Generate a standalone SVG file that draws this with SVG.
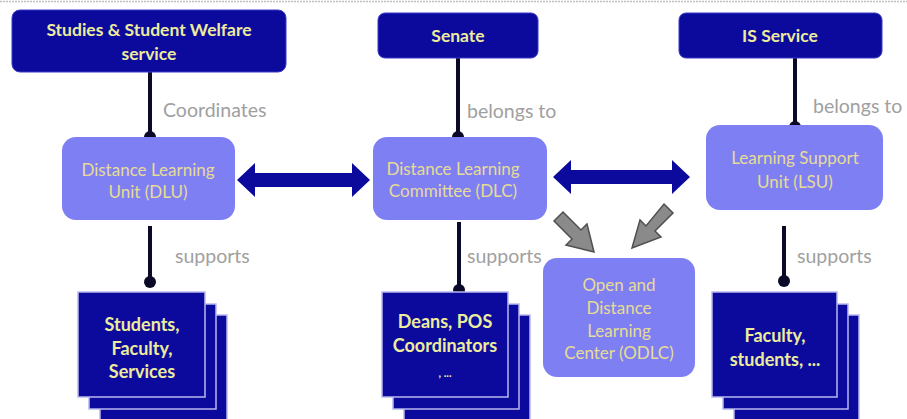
<svg xmlns="http://www.w3.org/2000/svg" width="907" height="419" viewBox="0 0 907 419">
<style>
.top{fill:#0c0a9c;stroke:#3a38c8;stroke-width:1}
.mid{fill:#7f7ff4}
.stk{fill:#0c0a9c;stroke:#b8b8f0;stroke-width:1.5}
.tt{font-family:Lato,"Liberation Sans",sans-serif;font-weight:bold;font-size:17.5px;fill:#ecec9e;text-anchor:middle}
.st{font-size:18px}
.mt{font-family:Lato,"Liberation Sans",sans-serif;font-size:17px;fill:#e6dc94;text-anchor:middle}
.lbl{font-family:Lato,"Liberation Sans",sans-serif;font-size:19.5px;fill:#a0a0a0}
.ln{stroke:#0a0a28;stroke-width:4}
.dot{fill:#0a0a28}
.dbl{fill:#0c0a9c}
.gr{fill:#8a8a8a;stroke:#505050;stroke-width:1.5}
</style>
<rect width="907" height="419" fill="#fff"/>
<line x1="0" y1="1.5" x2="907" y2="1.5" stroke="#c0c0c0" stroke-width="1.5" stroke-dasharray="2 1"/>
<g id="connectors">
<line class="ln" x1="150" y1="72" x2="150" y2="137"/><circle class="dot" cx="150" cy="137" r="6"/>
<line class="ln" x1="458" y1="58" x2="458" y2="137"/><circle class="dot" cx="458" cy="137" r="6"/>
<line class="ln" x1="795" y1="58" x2="795" y2="127"/><circle class="dot" cx="795" cy="127" r="6"/>
<line class="ln" x1="150" y1="226" x2="150" y2="282"/><circle class="dot" cx="150" cy="282" r="6"/>
<line class="ln" x1="459" y1="222" x2="459" y2="290"/><circle class="dot" cx="459" cy="290" r="6"/>
<line class="ln" x1="784" y1="226" x2="784" y2="281"/><circle class="dot" cx="784" cy="281" r="6"/>
<text class="lbl" x="163" y="117">Coordinates</text>
<text class="lbl" x="467" y="118">belongs to</text>
<text class="lbl" x="813" y="113">belongs to</text>
<text class="lbl" x="175" y="263">supports</text>
<text class="lbl" x="467" y="263">supports</text>
<text class="lbl" x="797" y="263">supports</text>
<polygon class="dbl" points="237,180 255,163 255,173 352,173 352,163 370,180 352,197 352,187 255,187 255,197"/>
<polygon class="dbl" points="553,177 571,160 571,170 672,170 672,160 690,177 672,194 672,184 571,184 571,194"/>
<polygon class="gr" points="563,212 581,230 587,224 594,252 566,245 572,239 554,221"/>
<polygon class="gr" points="664,204 673,213 655,231 661,237 632,248 640,220 646,226"/>
</g>
<g id="n-sswf"><rect class="top" x="12" y="10" width="274" height="62" rx="8"/><text class="tt" x="149" y="36">Studies &amp; Student Welfare</text><text class="tt" x="149" y="60">service</text></g>
<g id="n-senate"><rect class="top" x="378" y="13" width="160" height="45" rx="7"/><text class="tt" x="458" y="42">Senate</text></g>
<g id="n-is"><rect class="top" x="679" y="13" width="203" height="45" rx="7"/><text class="tt" x="780" y="42">IS Service</text></g>
<g id="n-dlu"><rect class="mid" x="62" y="137" width="173" height="83" rx="14"/><text class="mt" x="148" y="176">Distance Learning</text><text class="mt" x="148" y="198">Unit (DLU)</text></g>
<g id="n-dlc"><rect class="mid" x="373" y="137" width="174" height="83" rx="14"/><text class="mt" x="453" y="175">Distance Learning</text><text class="mt" x="453" y="197">Committee (DLC)</text></g>
<g id="n-lsu"><rect class="mid" x="706" y="125" width="177" height="85" rx="14"/><text class="mt" x="795" y="164">Learning Support</text><text class="mt" x="795" y="188">Unit (LSU)</text></g>
<g id="n-odlc"><rect class="mid" x="543" y="258" width="152" height="119" rx="14"/><text class="mt" x="619" y="291">Open and</text><text class="mt" x="619" y="314">Distance</text><text class="mt" x="619" y="337">Learning</text><text class="mt" x="619" y="359">Center (ODLC)</text></g>
<g id="n-students"><rect class="stk" x="100" y="315" width="127" height="106"/><rect class="stk" x="89" y="304" width="127" height="105"/><rect class="stk" x="78" y="292" width="127" height="105"/><text class="tt st" x="142" y="331">Students,</text><text class="tt st" x="142" y="355">Faculty,</text><text class="tt st" x="142" y="378">Services</text></g>
<g id="n-deans"><rect class="stk" x="404" y="315" width="126" height="106"/><rect class="stk" x="393" y="304" width="126" height="105"/><rect class="stk" x="382" y="292" width="126" height="105"/><text class="tt st" x="445" y="328">Deans, POS</text><text class="tt st" x="445" y="352">Coordinators</text><text class="tt" x="445" y="377" style="font-size:11px">, ...</text></g>
<g id="n-faculty"><rect class="stk" x="734" y="315" width="125" height="106"/><rect class="stk" x="723" y="304" width="125" height="105"/><rect class="stk" x="712" y="292" width="125" height="105"/><text class="tt st" x="775" y="342">Faculty,</text><text class="tt st" x="775" y="366">students, ...</text></g>
</svg>
